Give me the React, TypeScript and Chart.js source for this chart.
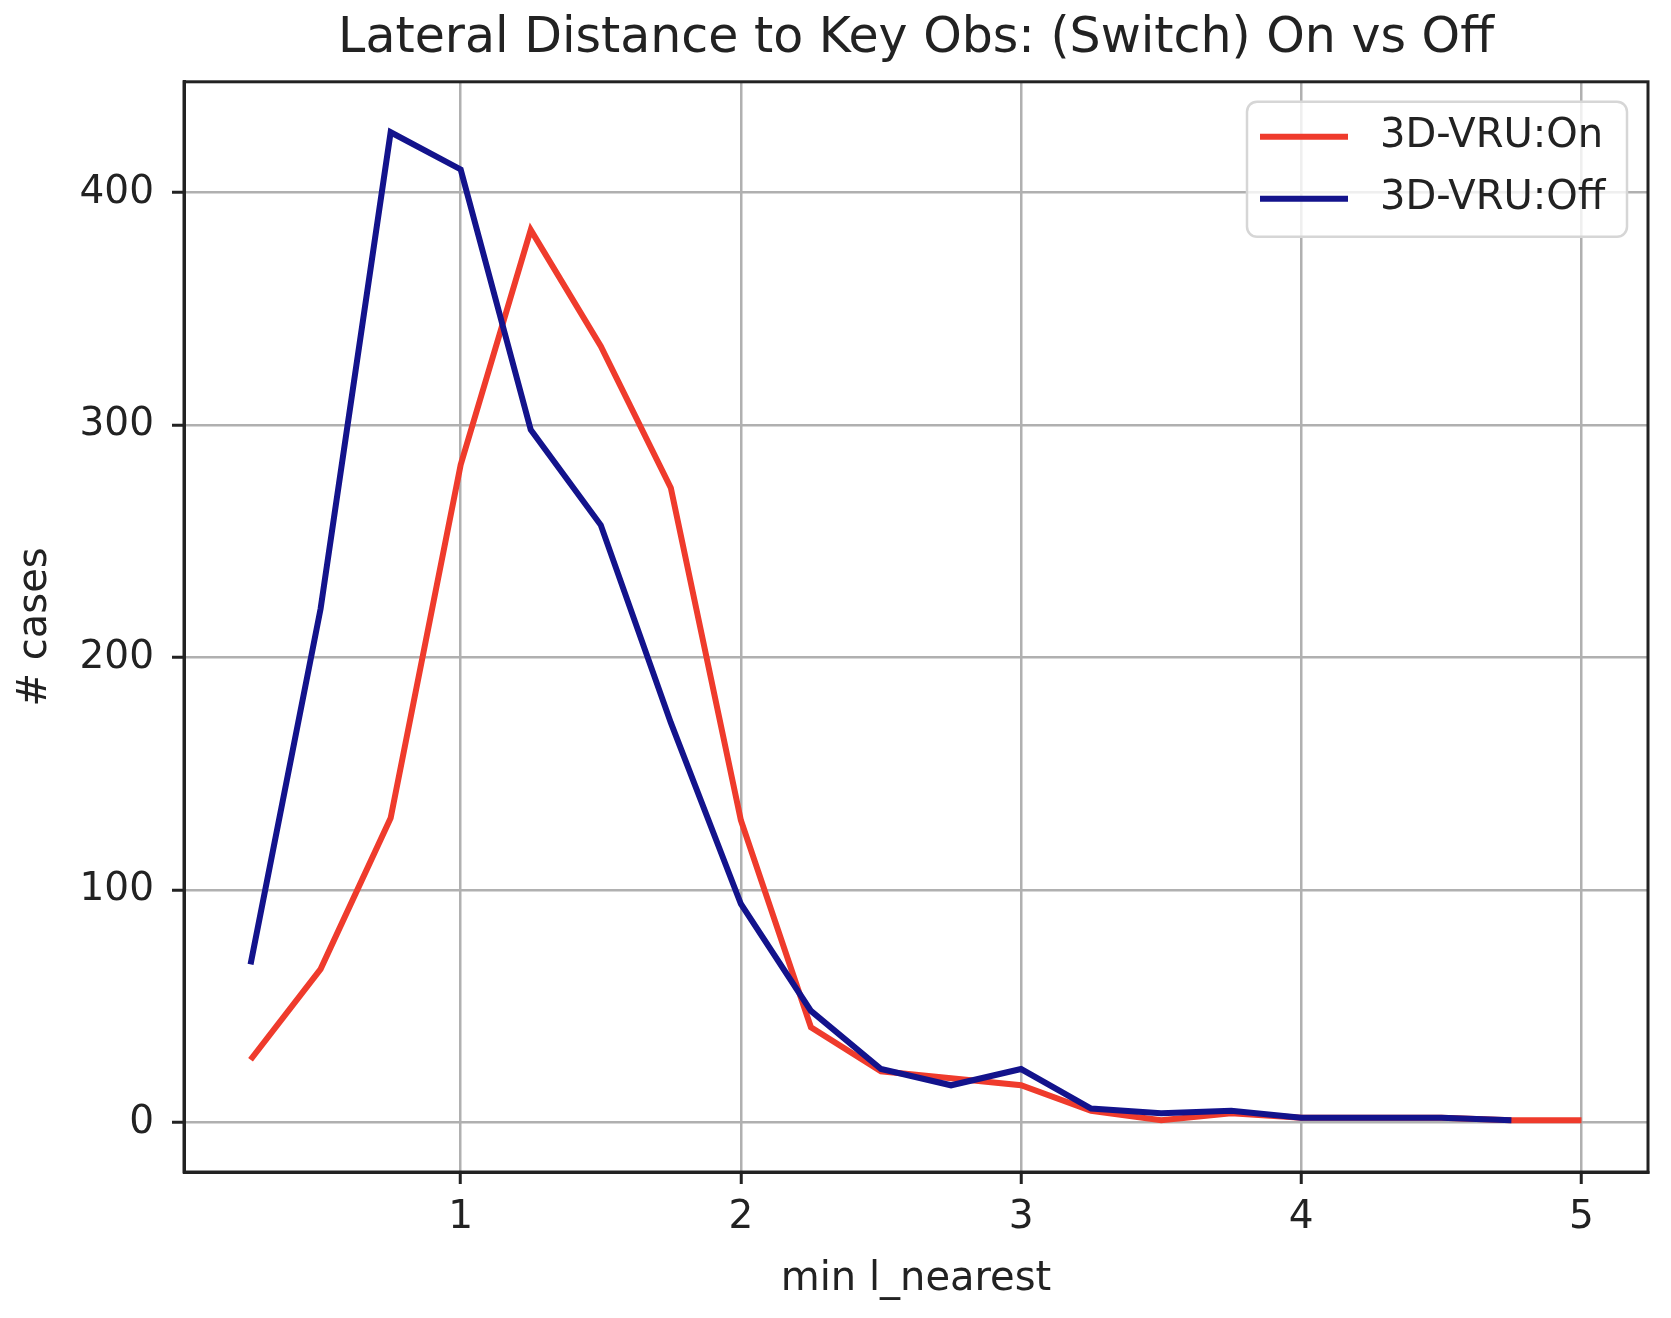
import { useEffect, useRef } from 'react';
import { Chart, registerables, Plugin } from 'chart.js';

Chart.register(...registerables);

// bin centres (min l_nearest)
const binCenters = [0.25, 0.5, 0.75, 1.0, 1.25, 1.5, 1.75, 2.0, 2.25, 2.5, 2.75, 3.0, 3.25, 3.5, 3.75, 4.0, 4.25, 4.5, 4.75, 5.0];
// case counts
const casesOn = [27, 66, 131, 283, 384, 334, 273, 130, 41, 22, 19, 16, 5, 1, 4, 2, 2, 2, 1, 1];
const casesOff = [68, 221, 426, 410, 298, 257, 172, 94, 48, 23, 16, 23, 6, 4, 5, 2, 2, 2, 1];

const xTicks = [1, 2, 3, 4, 5];
const yTicks = [0, 100, 200, 300, 400];

const FONT = 'DejaVu Sans';
const TEXT = '#222';

// matplotlib-like frame (top and right spines) and an in-axes legend
const framePlugin: Plugin<'line'> = {
  id: 'frame',
  afterDraw(chart) {
    const { ctx, chartArea } = chart;
    const { left, top, right, bottom } = chartArea;
    ctx.save();
    ctx.strokeStyle = '#222';
    ctx.lineWidth = 3;
    ctx.strokeRect(left, top, right - left, bottom - top);

    // legend box, upper right
    const boxW = 380;
    const boxH = 135;
    const bx = right - 21 - boxW;
    const by = top + 20;
    ctx.beginPath();
    ctx.roundRect(bx, by, boxW, boxH, 10);
    ctx.fillStyle = 'rgba(255,255,255,0.8)';
    ctx.fill();
    ctx.strokeStyle = '#d6d6d6';
    ctx.lineWidth = 2.5;
    ctx.stroke();

    ctx.font = `40px "${FONT}"`;
    ctx.textBaseline = 'middle';
    ctx.textAlign = 'left';
    chart.data.datasets.forEach((ds, i) => {
      const y = by + 35 + i * 62;
      ctx.beginPath();
      ctx.moveTo(bx + 13, y);
      ctx.lineTo(bx + 101, y);
      ctx.strokeStyle = ds.borderColor as string;
      ctx.lineWidth = 6;
      ctx.stroke();
      ctx.fillStyle = TEXT;
      ctx.fillText(ds.label as string, bx + 133, y);
    });
    ctx.restore();
  },
};

export default function App() {
  const chartRef = useRef<HTMLCanvasElement>(null);
  const chartInstance = useRef<Chart | null>(null);

  useEffect(() => {
    if (!chartRef.current) return;
    if (chartInstance.current) {
      chartInstance.current.destroy();
    }
    const ctx = chartRef.current.getContext('2d');
    if (!ctx) return;

    Chart.defaults.font.family = FONT;

    const grid = {
      color: '#b0b0b0',
      lineWidth: 2.5,
      drawTicks: true,
      tickLength: 12,
      tickColor: '#222',
      tickWidth: 3,
    };

    chartInstance.current = new Chart(ctx, {
      type: 'line',
      data: {
        datasets: [
          {
            label: '3D-VRU:On',
            data: casesOn.map((v, i) => ({ x: binCenters[i], y: v })),
            borderColor: '#ef3b2c',
            borderWidth: 6,
            pointRadius: 0,
            tension: 0,
            fill: false,
            order: 1,
          },
          {
            label: '3D-VRU:Off',
            data: casesOff.map((v, i) => ({ x: binCenters[i], y: v })),
            borderColor: '#13138c',
            borderWidth: 6,
            pointRadius: 0,
            tension: 0,
            fill: false,
            order: 0,
          },
        ],
      },
      options: {
        animation: false,
        responsive: true,
        maintainAspectRatio: false,
        layout: { padding: { left: 0, right: 23, top: 0, bottom: 0 } },
        plugins: {
          legend: { display: false },
          tooltip: { enabled: false },
          title: {
            display: true,
            fullSize: false,
            text: 'Lateral Distance to Key Obs: (Switch) On vs Off',
            color: TEXT,
            font: { size: 49, weight: 'normal' },
            padding: { top: 10, bottom: 13 },
          },
        },
        scales: {
          x: {
            type: 'linear',
            min: 0.0125,
            max: 5.2375,
            afterBuildTicks: (axis) => {
              axis.ticks = xTicks.map((v) => ({ value: v }));
            },
            afterFit: (axis) => {
              axis.height = 146;
            },
            grid,
            border: { display: true, color: '#222', width: 3 },
            ticks: {
              color: TEXT,
              font: { size: 39 },
              padding: 10,
              maxRotation: 0,
              autoSkip: false,
            },
            title: {
              display: true,
              text: 'min l_nearest',
              color: TEXT,
              font: { size: 40 },
              padding: { top: 0, bottom: 14 },
            },
          },
          y: {
            type: 'linear',
            min: -21.3,
            max: 447.7,
            afterBuildTicks: (axis) => {
              axis.ticks = yTicks.map((v) => ({ value: v }));
            },
            afterFit: (axis) => {
              axis.width = 184;
            },
            grid,
            border: { display: true, color: '#222', width: 3 },
            ticks: {
              color: TEXT,
              font: { size: 39 },
              padding: 18,
              autoSkip: false,
            },
            title: {
              display: true,
              text: '# cases',
              color: TEXT,
              font: { size: 40 },
              padding: { top: 12, bottom: 0 },
            },
          },
        },
      },
      plugins: [framePlugin],
    });

    return () => {
      if (chartInstance.current) {
        chartInstance.current.destroy();
        chartInstance.current = null;
      }
    };
  }, []);

  return (
    <div style={{ position: 'absolute', left: 0, top: 0, width: 1671, height: 1318, background: '#fff' }}>
      <canvas ref={chartRef}></canvas>
    </div>
  );
}
